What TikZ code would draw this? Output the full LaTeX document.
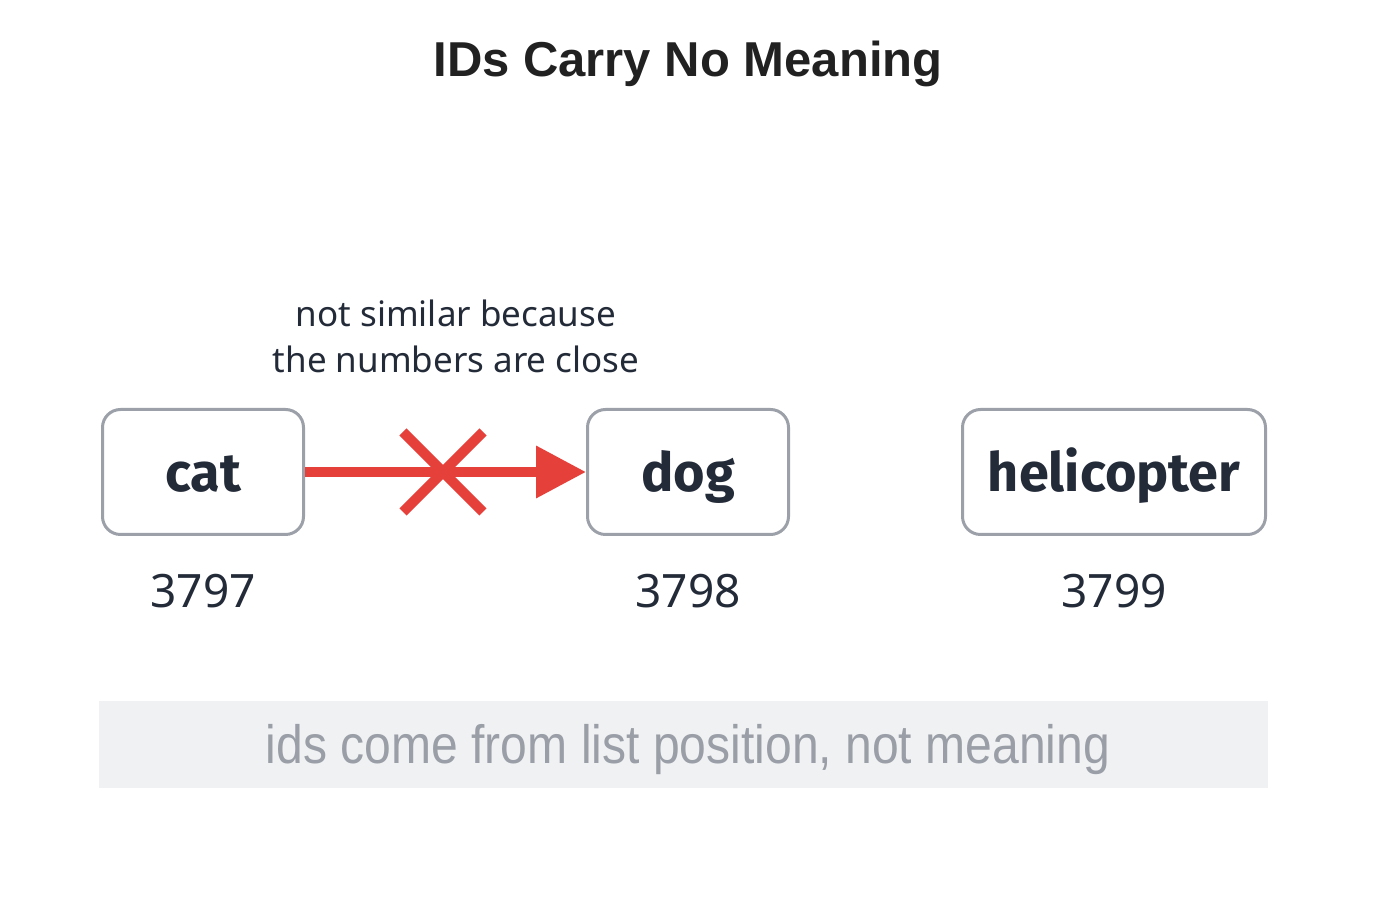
\documentclass[tikz,border=0pt]{standalone}
\usepackage{fontspec}
\setmainfont{Noto Sans}
\newfontfamily\titlefont{Liberation Sans}
\newfontfamily\boxfont{Fira Sans}
\newfontfamily\narrowfont[FakeStretch=0.89]{Liberation Sans}
\usetikzlibrary{arrows.meta}
\definecolor{inkdark}{HTML}{232A38}
\definecolor{boxline}{HTML}{9CA0A8}
\definecolor{crossred}{HTML}{E5403A}
\definecolor{barfill}{HTML}{F0F1F3}
\definecolor{bartext}{HTML}{9A9EA6}
\tikzset{
  wordbox/.style={draw=boxline, line width=3pt, rounded corners=18pt, fill=white,
    minimum height=125pt, inner sep=0pt, text=inkdark, text height=40pt, text depth=0pt,
    font=\boxfont\bfseries\fontsize{54}{58}\selectfont},
  idnum/.style={text=inkdark, inner sep=0pt, font=\fontsize{46}{50}\selectfont},
  redline/.style={crossred, line width=10pt}
}

\begin{document}
\begin{tikzpicture}[x=1pt,y=1pt]
    \useasboundingbox (0,0) rectangle (1376,899);

    \node[anchor=base, text=black!87, font=\titlefont\bfseries\fontsize{49}{53}\selectfont] (title) at (688,822) {IDs Carry No Meaning};

    \node[wordbox, minimum width=201pt] (cat) at (203,427) {cat};
    \node[wordbox, minimum width=201pt] (dog) at (688,427) {dog};
    \node[wordbox, minimum width=303pt] (heli) at (1114,427) {helicopter};

    \foreach \w/\n in {cat/3797, dog/3798, heli/3799}
        \node[idnum, anchor=base] (\w id) at ([yshift=-136pt]\w.center) {\n};

    \node[align=center, text=inkdark, inner sep=0pt, font=\fontsize{35}{46}\selectfont] (note) at (456,563) {not similar because\\the numbers are close};

    \draw[redline, -{Triangle[length=50pt, width=50pt]}] (cat.east) -- (dog.west);
    \coordinate (cross) at (443,427);
    \draw[redline] ([shift={(-40pt,-40pt)}]cross) -- ([shift={(40pt,40pt)}]cross);
    \draw[redline] ([shift={(-40pt,40pt)}]cross) -- ([shift={(40pt,-40pt)}]cross);

    \fill[barfill] (99,111) rectangle (1268,198);
    \node[text=bartext, font=\narrowfont\fontsize{54}{58}\selectfont] (footer) at (688,149) {ids come from list position, not meaning};
\end{tikzpicture}
\end{document}
